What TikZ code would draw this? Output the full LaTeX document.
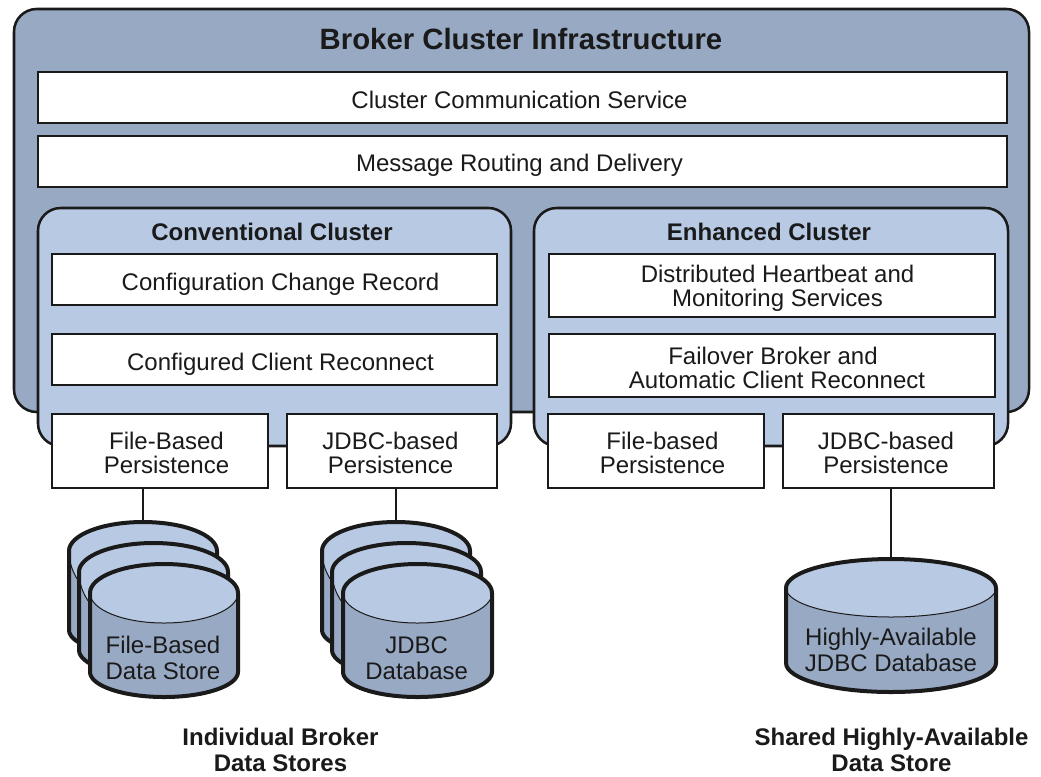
\documentclass[tikz,border=0pt]{standalone}
\usepackage{fontspec}
\setmainfont{Liberation Sans}
\definecolor{dk}{HTML}{98A9C4}
\definecolor{lt}{HTML}{B8C9E3}
\definecolor{ln}{HTML}{1A1A1A}
\newlength\pxu \setlength\pxu{0.75pt}
% name, x1, y1, x2, y2, text, text x offset, text y offset
\newcommand\bxn[8]{%
  \pgfmathsetmacro\bw{(#4-#2)}\pgfmathsetmacro\bh{(#5-#3)}%
  \node[boxn,minimum width=\bw\pxu,minimum height=\bh\pxu] (#1) at ({(#2+#4)/2},{(#3+#5)/2}) {};
  \node[txt] (#1t) at ({(#2+#4)/2+#7},{(#3+#5)/2+#8}) {#6};}
% name, x1, x2, top, upper-side y, ellipse-lower y, lower-side y, bottom
\newcommand\cyl[8]{%
  \pgfmathsetmacro\cx{(#2+#3)/2}\pgfmathsetmacro\rx{(#3-#2)/2}%
  \pgfmathsetmacro\ryt{#5-#4}\pgfmathsetmacro\ryb{#8-#7}\pgfmathsetmacro\ryi{#6-#5}%
  \fill[dk] (#2,#5) -- (#2,#7) arc[start angle=180,end angle=360,x radius=\rx,y radius=-\ryb] -- (#3,#5) -- cycle;
  \fill[lt] (#2,#5) arc[start angle=180,end angle=0,x radius=\rx,y radius=-\ryt] arc[start angle=0,end angle=-180,x radius=\rx,y radius=-\ryi] -- cycle;
  \draw[line width=0.75pt,ln] (#2,#5) arc[start angle=180,end angle=360,x radius=\rx,y radius=-\ryi];
  \draw[line width=3pt,ln,line join=round] (#2,#7) -- (#2,#5) arc[start angle=180,end angle=0,x radius=\rx,y radius=-\ryt] -- (#3,#7) arc[start angle=0,end angle=-180,x radius=\rx,y radius=-\ryb] -- cycle;
  \node[cyllab,anchor=north] (#1) at (\cx,#4) {};
}
\tikzset{
  txt/.style={inner sep=0pt,outer sep=0pt,align=center,font=\fontsize{18pt}{18pt}\selectfont,text=ln},
  cyltxt/.style={inner sep=0pt,outer sep=0pt,align=center,font=\fontsize{18pt}{19.5pt}\selectfont,text=ln},
  cyllab/.style={inner sep=0pt,outer sep=0pt,minimum size=0pt},
  boxn/.style={draw=ln,line width=1.9pt,fill=white,inner sep=0pt,outer sep=0pt},
  panel/.style={draw=ln,line width=1.9pt,rounded corners=17pt},
  wire/.style={draw=ln,line width=1.9pt},
  head/.style={inner sep=0pt,align=center,font=\bfseries\fontsize{18pt}{20pt}\selectfont,text=ln}
}
\begin{document}
\begin{tikzpicture}[x=0.75pt,y=-0.75pt]
\useasboundingbox (0,0) rectangle (1041,776);
\draw[panel,fill=dk] (14,9) rectangle (1029,412);
\node[inner sep=0pt,font=\bfseries\fontsize{22pt}{24pt}\selectfont,text=ln] (title) at (521,39) {Broker Cluster Infrastructure};
\bxn{comm}{38}{72}{1007}{123}{Cluster Communication Service}{-3}{2}
\bxn{route}{38}{136}{1007}{187}{Message Routing and Delivery}{-3}{4}
\draw[panel,fill=lt] (38,208) rectangle (511,446);
\draw[panel,fill=lt] (534,208) rectangle (1008,446);
\node[head] (conv) at (272,232) {Conventional Cluster};
\node[head] (enh) at (769,232) {Enhanced Cluster};
\bxn{ccr}{52}{254}{497}{305}{Configuration Change Record}{6}{5}
\bxn{ccl}{52}{334}{497}{385}{Configured Client Reconnect}{6}{5}
\bxn{dhb}{549}{254}{995}{317}{Distributed Heartbeat and\\Monitoring Services}{5.5}{3}
\bxn{fob}{549}{334}{995}{397}{Failover Broker and\hspace*{6pt}\\Automatic Client Reconnect}{5}{2}
\bxn{p1}{52}{414}{268}{488}{File-Based\\Persistence}{6.5}{2}
\bxn{p2}{287}{414}{497}{488}{JDBC-based\\Persistence}{-1.5}{2}
\bxn{p3}{548}{414}{764}{488}{File-based\\Persistence}{6.5}{2}
\bxn{p4}{783}{414}{994}{488}{JDBC-based\\Persistence}{-2.5}{2}
\cyl{a1}{69}{217}{522}{551}{612}{630}{655}
\cyl{a2}{79}{228}{543}{572}{632}{650}{676}
\cyl{a3}{90}{238}{564}{593}{623}{672}{697}
\node[cyltxt] (t1) at (163,658) {File-Based\\Data Store};
\cyl{b1}{322}{470}{522}{551}{612}{630}{655}
\cyl{b2}{332}{481}{543}{572}{632}{650}{676}
\cyl{b3}{343}{492}{564}{593}{623}{672}{697}
\node[cyltxt] (t2) at (416.7,658) {JDBC\\Database};
\cyl{c}{786}{996}{559}{588}{617}{663}{692}
\node[cyltxt] (t3) at (891,650) {Highly-Available\\JDBC Database};
\draw[wire] (p1.south -| a1) -- (a1);
\draw[wire] (p2.south -| b1) -- (b1);
\draw[wire] (p4.south -| c) -- (c);
\node[head] (l1) at (280.5,750) {Individual Broker\\Data Stores};
\node[head] (l2) at (891.5,750) {Shared Highly-Available\\Data Store};
\end{tikzpicture}
\end{document}
